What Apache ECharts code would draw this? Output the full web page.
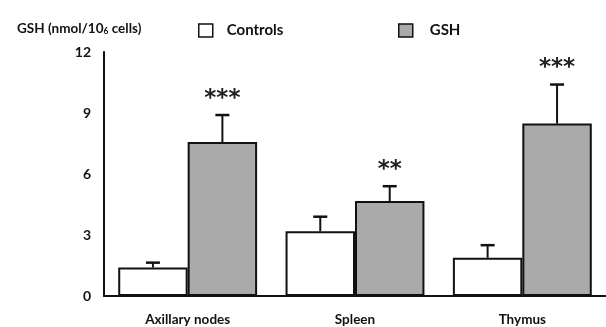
<!DOCTYPE html>
<html><head><meta charset="utf-8">
<script src="https://cdn.jsdelivr.net/npm/echarts@6/dist/echarts.min.js"></script>
<style>html,body{margin:0;padding:0;background:#fff}#c{width:606px;height:327px}</style>
</head><body><div id="c"></div>
<script>
var categories = ['Axillary nodes', 'Spleen', 'Thymus'];
var controls = [1.4, 3.18, 1.88];
var controlsErr = [0.24, 0.72, 0.62];
var gsh = [7.57, 4.67, 8.48];
var gshErr = [1.33, 0.73, 1.92];
var gshStars = ['***', '**', '***'];
var yTicks = [0, 3, 6, 9, 12];

var FONT = 'Lato';
var GAP = 0.17;
var chart = echarts.init(document.getElementById('c'), null, {renderer: 'canvas'});

function errRender(vals, errs, side, stars) {
  return function (params, api) {
    var i = api.value(0);
    var center = api.coord([i, 0]);
    var band = api.size([1, 0])[0];
    var bw = band * (1 - GAP) / 2;
    var x = center[0] + side * bw / 2;
    var top = api.coord([i, vals[i]])[1];
    var et = api.coord([i, vals[i] + errs[i]])[1];
    var st = {stroke: '#111', lineWidth: 2};
    var children = [
      {type: 'line', shape: {x1: x, y1: top, x2: x, y2: et}, style: st},
      {type: 'line', shape: {x1: x - 7, y1: et, x2: x + 7, y2: et}, style: {stroke: '#111', lineWidth: 2.5}}
    ];
    if (stars && stars[i]) {
      children.push({type: 'text', style: {text: stars[i], x: x, y: et - 5, align: 'center', verticalAlign: 'bottom', font: 'bold 23px "DejaVu Sans"', fill: '#222'}});
    }
    return {type: 'group', children: children};
  };
}

chart.setOption({
  animation: false,
  backgroundColor: '#fff',
  title: {
    left: 12, top: 16,
    text: '{a|GSH (nmol/10}{s|6}{a| cells)}',
    textStyle: {
      rich: {
        a: {fontFamily: FONT, fontSize: 13.5, fontWeight: 'bold', color: '#111'},
        s: {fontFamily: FONT, fontSize: 8.5, fontWeight: 'bold', color: '#111', verticalAlign: 'bottom', padding: [6, 0, 0, 0]}
      }
    }
  },
  legend: [
    {data: ['Controls'], left: 193, top: 18, itemWidth: 14, itemHeight: 13, icon: 'rect',
     itemStyle: {color: '#fff', borderColor: '#111', borderWidth: 1.5},
     textStyle: {fontFamily: FONT, fontSize: 15, fontWeight: 'bold', color: '#111', padding: [0, 0, 0, 9]}},
    {data: ['GSH'], left: 393, top: 18, itemWidth: 14, itemHeight: 13, icon: 'rect',
     itemStyle: {color: '#aaa', borderColor: '#111', borderWidth: 1.5},
     textStyle: {fontFamily: FONT, fontSize: 15, fontWeight: 'bold', color: '#111', padding: [0, 0, 0, 12]}}
  ],
  grid: {left: 104, right: -11, top: 52, bottom: 26, containLabel: false},
  xAxis: {
    type: 'category', data: categories,
    axisLine: {lineStyle: {color: '#111', width: 2}},
    axisTick: {show: false},
    axisLabel: {fontFamily: FONT, fontSize: 13.5, fontWeight: 'bold', color: '#111', margin: 17}
  },
  yAxis: {
    type: 'value', min: 0, max: 12, interval: 3,
    axisLine: {show: true, lineStyle: {color: '#111', width: 2}},
    axisTick: {show: false},
    splitLine: {show: false},
    axisLabel: {fontFamily: FONT, fontSize: 14, fontWeight: 'bold', color: '#111', margin: 13,
      formatter: function (v) { return yTicks.indexOf(v) >= 0 ? String(v) : ''; }}
  },
  series: [
    {name: 'Controls', type: 'bar', data: controls, barGap: '0%', barCategoryGap: '17%',
     itemStyle: {color: '#fff', borderColor: '#111', borderWidth: 2}},
    {name: 'GSH', type: 'bar', data: gsh, barGap: '0%', barCategoryGap: '17%',
     itemStyle: {color: '#aaa', borderColor: '#111', borderWidth: 2}},
    {type: 'custom', data: [0, 1, 2], renderItem: errRender(controls, controlsErr, -1, null), z: 5},
    {type: 'custom', data: [0, 1, 2], renderItem: errRender(gsh, gshErr, 1, gshStars), z: 5}
  ]
});
</script></body></html>
